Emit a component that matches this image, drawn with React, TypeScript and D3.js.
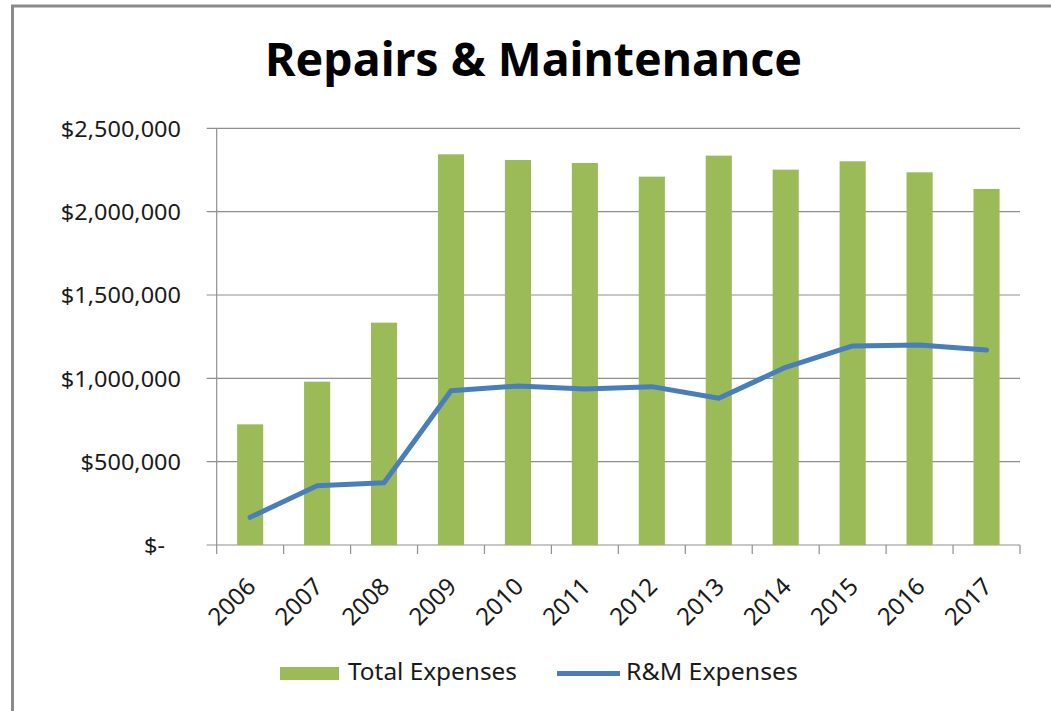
import React from "react";
import * as d3 from "d3";

const years = ["2006", "2007", "2008", "2009", "2010", "2011", "2012", "2013", "2014", "2015", "2016", "2017"];
const totalExpenses = [724000, 980000, 1334000, 2344000, 2310000, 2292000, 2210000, 2336000, 2252000, 2302000, 2236000, 2136000];
const rmExpenses = [166000, 356000, 374000, 925000, 954000, 936000, 950000, 880000, 1066000, 1194000, 1200000, 1170000];
const yTicks = [0, 500000, 1000000, 1500000, 2000000, 2500000];

const W = 1051;
const H = 711;
const font = "'Noto Sans', 'Open Sans', sans-serif";
const green = "#9BBB59";
const blue = "#4A7EBB";
const gridColor = "#8f8f8f";

const App: React.FC = () => {
  // plot bounds
  const left = 216.7;
  const right = 1020;
  const top = 128.3;
  const bottom = 545;

  const x = d3.scaleBand<string>().domain(years).range([left, right]).paddingInner(0.61).paddingOuter(0.305);
  const y = d3.scaleLinear().domain([0, 2500000]).range([bottom, top]);
  const step = x.step();
  const fmt = d3.format("$,");

  const rows = years.map((yr, i) => ({ yr, total: totalExpenses[i], rm: rmExpenses[i] }));

  const linePath =
    d3
      .line<{ yr: string; rm: number }>()
      .x((d) => (x(d.yr) as number) + x.bandwidth() / 2)
      .y((d) => y(d.rm))(rows) || "";

  // tick boundaries between categories
  const boundaries = d3.range(years.length + 1).map((i) => left + i * step);

  return (
    <svg width={W} height={H} style={{ position: "absolute", left: 0, top: 0, display: "block" }}>
      <rect x={0} y={0} width={W} height={H} fill="#fff" />
      {/* outer border (runs off the picture right and bottom) */}
      <rect x={12.5} y={6} width={1200} height={900} fill="none" stroke="#8a8a8a" strokeWidth={3} />

      {/* Title */}
      <text
        x={265}
        y={76}
        fontFamily={font}
        fontWeight="bold"
        fontSize={46}
        textLength={537}
        lengthAdjust="spacingAndGlyphs"
        fill="#000"
      >
        Repairs &amp; Maintenance
      </text>

      {/* gridlines + y labels */}
      {yTicks.map((t) => (
        <g key={t}>
          <line x1={left - 10} x2={right} y1={y(t)} y2={y(t)} stroke={gridColor} strokeWidth={1.2} />
          <text
            transform={`translate(${t === 0 ? 165 : 181},${y(t) + 8.4}) scale(1.12,1)`}
            textAnchor="end"
            fontFamily={font}
            fontSize={21}
            fill="#1a1a1a"
          >
            {t === 0 ? "$-" : fmt(t)}
          </text>
        </g>
      ))}

      {/* y axis line */}
      <line x1={left} x2={left} y1={top} y2={bottom} stroke={gridColor} strokeWidth={1.2} />

      {/* bars */}
      {rows.map((d) => (
        <rect
          key={d.yr}
          x={x(d.yr)}
          y={y(d.total)}
          width={x.bandwidth()}
          height={bottom - y(d.total)}
          fill={green}
        />
      ))}

      {/* x axis ticks */}
      {boundaries.map((bx, i) => (
        <line key={i} x1={bx} x2={bx} y1={bottom} y2={bottom + 9} stroke={gridColor} strokeWidth={1.2} />
      ))}

      {/* R&M line */}
      <path d={linePath} fill="none" stroke={blue} strokeWidth={5} strokeLinejoin="round" strokeLinecap="round" />

      {/* x labels */}
      {years.map((yr) => {
        const cx = (x(yr) as number) + x.bandwidth() / 2;
        return (
          <text
            key={yr}
            transform={`translate(${cx + 7},${bottom + 43}) rotate(-45)`}
            textAnchor="end"
            fontFamily={font}
            fontSize={24}
            fill="#1a1a1a"
          >
            {yr}
          </text>
        );
      })}

      {/* legend */}
      <rect x={280} y={667} width={59} height={13} fill={green} />
      <text x={348} y={680} fontFamily={font} fontSize={23} textLength={169} lengthAdjust="spacingAndGlyphs" fill="#1a1a1a">
        Total Expenses
      </text>
      <line x1={557} x2={620} y1={673.5} y2={673.5} stroke={blue} strokeWidth={5} />
      <text x={626} y={680} fontFamily={font} fontSize={23} textLength={172} lengthAdjust="spacingAndGlyphs" fill="#1a1a1a">
        R&amp;M Expenses
      </text>
    </svg>
  );
};

export default App;
